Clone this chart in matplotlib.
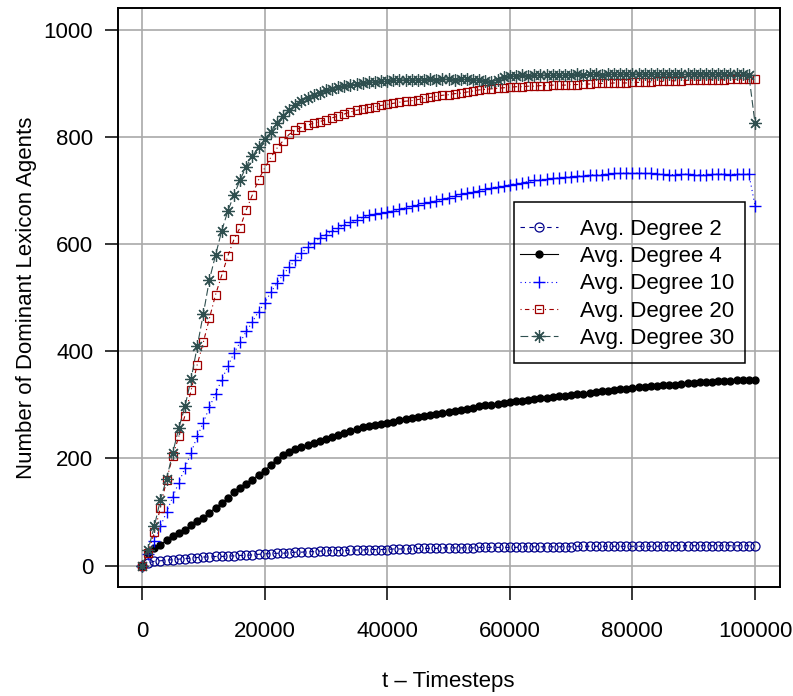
import numpy as np
import matplotlib.pyplot as plt
from matplotlib.patches import Rectangle

plt.rcParams['font.family'] = ['Liberation Sans', 'DejaVu Sans']

# timesteps (one sample every 1000 steps)
timesteps = np.arange(0, 100001, 1000)

deg2 = [0, 5, 8, 9, 10, 11, 12, 13, 14, 15, 16,
        16, 17, 17, 18, 18, 19, 19, 20, 21, 22,
        22, 23, 23, 24, 25, 25, 26, 26, 27, 27,
        28, 28, 28, 29, 29, 29, 30, 30, 30, 30,
        31, 31, 31, 31, 32, 32, 32, 32, 33, 33,
        33, 33, 33, 33, 34, 34, 34, 34, 34, 34,
        34, 35, 35, 35, 35, 35, 35, 35, 35, 35,
        36, 36, 36, 36, 36, 36, 36, 36, 36, 36,
        36, 36, 36, 36, 37, 37, 37, 37, 37, 37,
        37, 37, 37, 37, 37, 37, 37, 37, 37, 37]

deg4 = [0, 24, 33, 39, 47, 55, 61, 67, 75, 83, 89,
        99, 108, 117, 126, 137, 145, 153, 160, 170, 177,
        188, 198, 206, 212, 217, 221, 225, 228, 232, 236,
        240, 244, 248, 252, 255, 258, 260, 262, 264, 266,
        268, 271, 273, 275, 277, 279, 281, 283, 285, 287,
        289, 291, 293, 295, 297, 299, 300, 302, 304, 306,
        307, 308, 310, 311, 312, 313, 314, 316, 317, 319,
        320, 321, 322, 324, 325, 326, 328, 329, 330, 332,
        333, 334, 335, 336, 337, 338, 338, 339, 340, 341,
        342, 342, 343, 344, 344, 345, 346, 346, 347, 347]

deg10 = [0, 22, 45, 73, 100, 128, 155, 182, 211, 241, 267,
         296, 321, 347, 372, 397, 417, 437, 455, 474, 490,
         510, 527, 543, 557, 570, 583, 594, 603, 611, 618,
         624, 630, 636, 641, 646, 650, 654, 656, 658, 660,
         662, 665, 668, 671, 674, 677, 679, 681, 684, 687,
         690, 693, 695, 698, 700, 703, 705, 707, 709, 711,
         713, 715, 717, 719, 720, 721, 723, 724, 725, 726,
         727, 728, 729, 730, 730, 731, 732, 732, 733, 733,
         733, 732, 732, 731, 731, 730, 730, 731, 731, 730,
         730, 730, 731, 731, 731, 730, 731, 731, 731, 672]

deg20 = [0, 24, 62, 108, 160, 204, 241, 280, 327, 375, 417,
         462, 506, 542, 578, 609, 631, 664, 692, 720, 742,
         762, 779, 793, 805, 813, 818, 822, 826, 829, 832,
         836, 839, 843, 847, 850, 852, 855, 857, 859, 861,
         863, 865, 867, 868, 870, 872, 874, 876, 878, 879,
         881, 882, 884, 886, 888, 889, 890, 891, 892, 893,
         894, 894, 895, 895, 896, 896, 897, 897, 897, 898,
         898, 899, 899, 900, 900, 900, 901, 901, 901, 902,
         902, 903, 903, 904, 904, 905, 905, 905, 906, 906,
         906, 907, 907, 907, 907, 908, 908, 908, 908, 908]

deg30 = [0, 30, 73, 123, 162, 210, 257, 297, 348, 409, 470,
         534, 580, 625, 662, 692, 720, 745, 764, 782, 796,
         810, 826, 840, 851, 860, 867, 873, 878, 883, 887,
         890, 893, 895, 897, 899, 900, 902, 903, 904, 905,
         906, 906, 907, 907, 906, 907, 908, 907, 908, 908,
         907, 908, 908, 907, 906, 904, 903, 906, 912, 914,
         914, 915, 914, 915, 915, 916, 915, 916, 916, 916,
         917, 916, 917, 917, 916, 917, 917, 918, 917, 917,
         918, 917, 917, 918, 918, 917, 918, 918, 917, 918,
         918, 918, 917, 918, 918, 918, 917, 918, 916, 826]

labels = ["Avg. Degree 2", "Avg. Degree 4", "Avg. Degree 10",
          "Avg. Degree 20", "Avg. Degree 30"]

fig = plt.figure(figsize=(7.93, 6.96), dpi=100)
ax = fig.add_axes([0.1482, 0.1566, 0.8348, 0.8312])

lw = 0.8
ax.plot(timesteps, deg2, color="#00008B", linestyle=(0, (4, 4)), lw=lw,
        marker="o", ms=6.5, mfc="none", mec="#00008B", mew=0.9, label=labels[0])
ax.plot(timesteps, deg4, color="black", linestyle="-", lw=lw,
        marker="o", ms=5, mfc="black", mec="black", label=labels[1])
ax.plot(timesteps, deg10, color="#0000FF", linestyle=(0, (1, 3)), lw=lw,
        marker="+", ms=8.5, mew=1.0, label=labels[2])
ax.plot(timesteps, deg20, color="#A00000", linestyle=(0, (1, 3, 4, 3)), lw=lw,
        marker="s", ms=6, mfc="none", mec="#A00000", mew=0.9, label=labels[3])
ax.plot(timesteps, deg30, color="#2F4F4F", linestyle=(0, (7, 3)), lw=lw,
        marker=(8, 2, 0), ms=9, mew=0.9, label=labels[4])

ax.set_xlim(-4000, 104000)
ax.set_ylim(-40, 1040)
ax.set_xticks([0, 20000, 40000, 60000, 80000, 100000])
ax.set_yticks([0, 200, 400, 600, 800, 1000])
ax.grid(True, color="#A9A9A9", lw=1.2)
ax.set_axisbelow(True)

for s in ax.spines.values():
    s.set_linewidth(1.4)
ax.tick_params(axis="both", direction="out", length=9.5, width=1.1, labelsize=16)
ax.tick_params(axis="x", pad=15)
ax.tick_params(axis="y", pad=8)

ax.set_xlabel("t \u2013 Timesteps", fontsize=16, labelpad=21)
ax.set_ylabel("Number of Dominant Lexicon Agents", fontsize=16, labelpad=5)

leg = ax.legend(loc="upper left", bbox_to_anchor=(520 / 793, 1 - 219 / 696),
                bbox_transform=fig.transFigure, frameon=False, fontsize=16,
                borderpad=0, borderaxespad=0, handlelength=1.71,
                handletextpad=1.0, labelspacing=0.28, numpoints=1)

fig.patches.append(Rectangle((514 / 793, 1 - 363 / 696), 231 / 793, 161 / 696,
                             transform=fig.transFigure, fill=False,
                             edgecolor="black", lw=1.1))

fig.savefig("out.png", dpi=100)
